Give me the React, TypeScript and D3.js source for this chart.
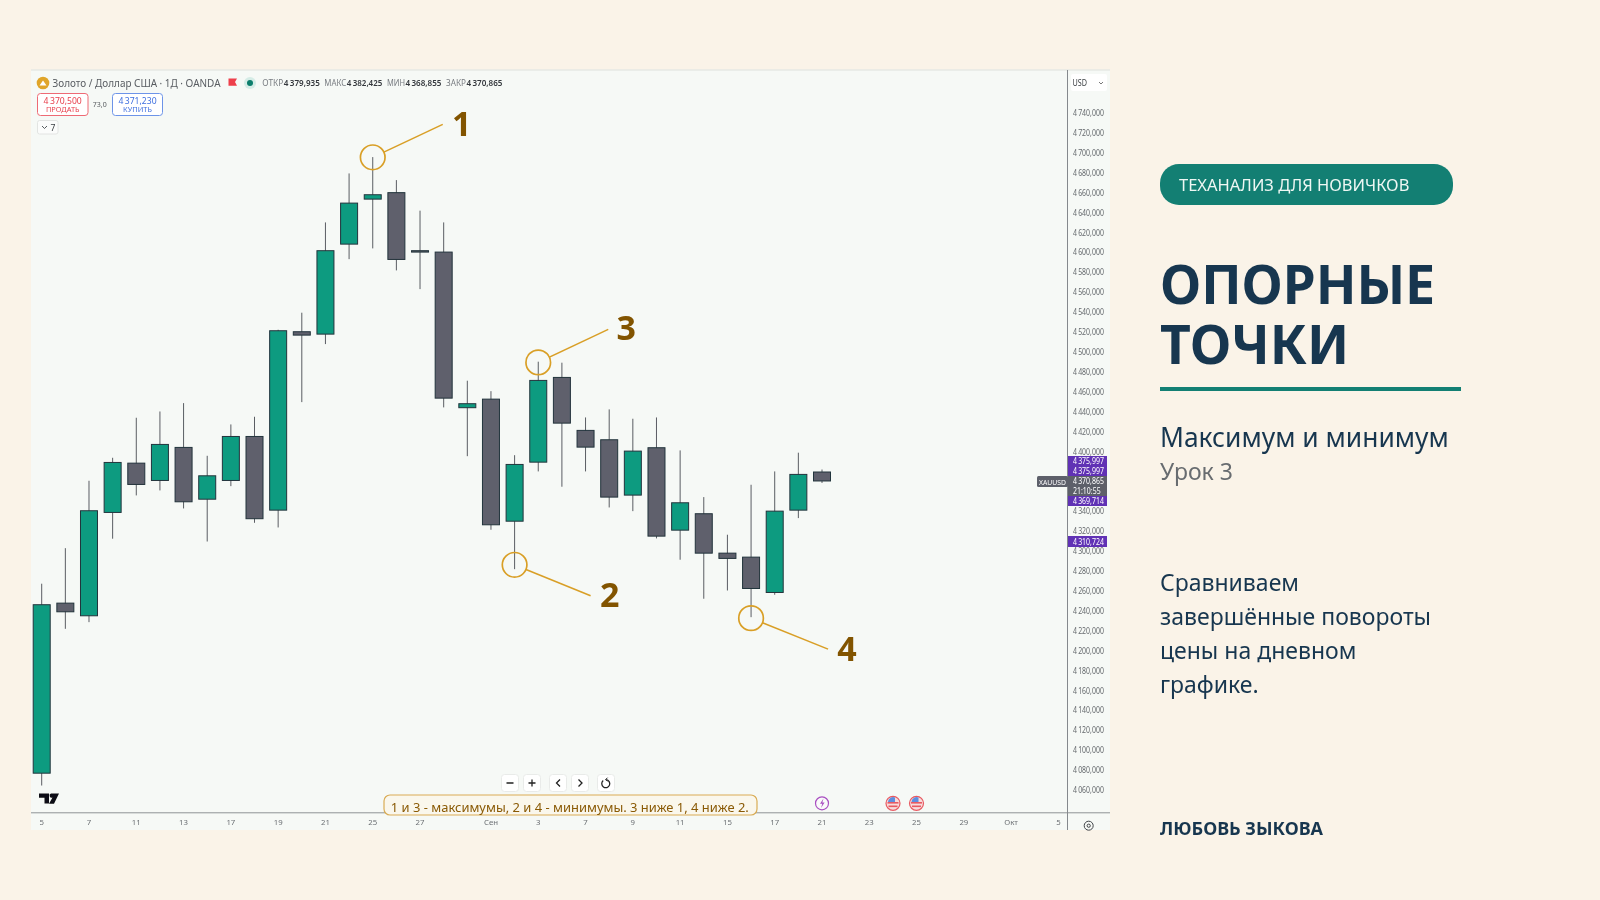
import React from "react";
import * as d3 from "d3";

const opens = [4077.4,4248.2,4235.5,4339.3,4388.8,4371.4,4404.6,4352.6,4371.4,4415.6,4341.6,4520.8,4518.4,4608.8,4654,4660.5,4602.2,4600.8,4444.5,4453.1,4330.5,4389.8,4474.9,4421.7,4412.3,4356.7,4404.3,4321.5,4338,4298.4,4294.4,4258.9,4341.6,4379.9];
const closes = [4246.6,4239.5,4341,4389.5,4367.4,4407.6,4350,4376.1,4415.6,4333,4521.8,4517.4,4602.2,4650,4658.4,4593.4,4600.8,4454.1,4448.5,4326.9,4387.5,4471.9,4429,4404.9,4354.7,4400.9,4315.5,4349,4298.4,4293.1,4262.9,4340.6,4377.5,4370.9];
const highs = [4267.7,4303.4,4371.1,4394.2,4434.4,4440.7,4449.1,4396.2,4427.7,4435.4,4522.8,4539.9,4630.6,4679.8,4696.2,4673.1,4642.4,4630.6,4471.6,4461.1,4396.8,4490.7,4489.7,4434.7,4442.8,4433.4,4434.7,4401.6,4354.7,4316.9,4367.1,4380.5,4399.3,4382.4];
const lows = [4065,4222.4,4229.1,4312.9,4356.4,4361.4,4343.3,4310.1,4365.7,4328.9,4324.2,4450.1,4508.4,4593.7,4604.5,4582.4,4563.6,4444.8,4395.8,4321.9,4282.3,4380.5,4365.1,4380.5,4344.3,4340.6,4313.2,4291.8,4252.6,4260.9,4234.1,4256.6,4333.6,4368.9];

const priceTicks = d3.range(4060, 4741, 20).filter((p) => p !== 4360 && p !== 4380);
const timeLabels = ["5","7","11","13","17","19","21","25","27","Сен","3","7","9","11","15","17","21","23","25","29","Окт","5"];
const timeLabelSlots = [0,2,4,6,8,10,12,14,16,19,21,23,25,27,29,31,33,35,37,39,41,43];

const pivotCandles = [14, 20, 21, 30];
const pivotPrices = [4696, 4286.7, 4490, 4233.1];
const pivotNames = ["1", "2", "3", "4"];

const paragraph = ["Сравниваем", "завершённые повороты", "цены на дневном", "графике."];
const ohlcNames = ["ОТКР", "МАКС", "МИН", "ЗАКР"];
const ohlcValues = ["4\u2009379,935", "4\u2009382,425", "4\u2009368,855", "4\u2009370,865"];

const W = 1600, H = 900;
const BG = "#faf3e8", PANEL = "#f6f9f6", NAVY = "#17364f", TEAL = "#137f73";
const UP = "#0f9b80", DOWN = "#5e606c", GOLD = "#d99f26", BROWN = "#825400", PURPLE = "#6030b5";
const SANS = "'Noto Sans', 'Open Sans', sans-serif";

const x = d3.scaleLinear().domain([0, 33]).range([41.7, 822]);
const y = d3.scaleLinear().domain([4060, 4740]).range([790.5, 113.5]);

const leaders = [
  { dx: 70, dy: -33, tx: 89, ty: -33 },
  { dx: 76, dy: 31, tx: 95, ty: 30 },
  { dx: 70, dy: -33, tx: 88, ty: -34 },
  { dx: 77, dy: 31, tx: 96, ty: 31 },
];

const tagTexts = [
  { t: "4\u2009375,997", py: 461 },
  { t: "4\u2009375,997", py: 471 },
  { t: "4\u2009370,865", py: 481 },
  { t: "21:10:55", py: 491 },
  { t: "4\u2009369,714", py: 501 },
  { t: "4\u2009310,724", py: 541.5 },
];

export default function App() {
  const bw = 17;
  return (
    <svg width={W} height={H} viewBox={`0 0 ${W} ${H}`} style={{ position: "absolute", left: 0, top: 0, display: "block" }} fontFamily={SANS}>
      <defs>
        <filter id="soft" x="-2%" y="-2%" width="104%" height="104%"><feGaussianBlur stdDeviation="0.3" /></filter>
      </defs>
      <rect width={W} height={H} fill={BG} />

      <g filter="url(#soft)">
        <rect x={31} y={70} width={1079} height={760} fill={PANEL} />
        <line x1={31} x2={1110} y1={70} y2={70} stroke="#e6e8e4" strokeWidth={1.5} />
        <line x1={31} x2={1110} y1={812.8} y2={812.8} stroke="#8f9396" strokeWidth={1} />
        <line x1={1067.5} x2={1067.5} y1={70} y2={830} stroke="#85898d" strokeWidth={1} />

        {opens.map((o, i) => {
          const c = closes[i];
          const top = y(Math.max(o, c));
          const bot = y(Math.min(o, c));
          return (
            <g key={i}>
              <line x1={x(i)} x2={x(i)} y1={y(highs[i])} y2={y(lows[i])} stroke="#5a5d63" strokeWidth={1} />
              <rect x={x(i) - bw / 2} y={top} width={bw} height={Math.max(bot - top, 1)} fill={c >= o ? UP : DOWN} stroke="#23343c" strokeWidth={1} />
            </g>
          );
        })}

        {priceTicks.map((p) => (
          <text key={p} transform={`translate(1073,${y(p) + 2.6}) scale(0.83,1)`} fontSize={8.4} fill="#666a6e">{d3.format(",")(p).replace(",", "\u2009")},000</text>
        ))}
        <rect x={1071} y={74} width={36} height={17} rx={2} fill="#ffffff" />
        <text transform="translate(1072.5,86) scale(0.85,1)" fontSize={8.5} fill="#3c4044">USD</text>
        <path d="M1099 82l2 2 2-2" fill="none" stroke="#555" strokeWidth={0.8} />

        <rect x={1068} y={456} width={39} height={20} fill={PURPLE} />
        <rect x={1068} y={476} width={39} height={20} fill="#5d606b" />
        <rect x={1068} y={496} width={39} height={10} fill={PURPLE} />
        <rect x={1068} y={536} width={39} height={11} fill={PURPLE} />
        {tagTexts.map((tg, i) => (
          <text key={i} transform={`translate(1073,${tg.py + 3}) scale(0.83,1)`} fontSize={8.4} fill="#fff">{tg.t}</text>
        ))}
        <rect x={1037} y={476} width={31} height={11} rx={1.5} fill="#5d606b" />
        <text transform="translate(1039,484.5) scale(0.85,1)" fontSize={8} fill="#fff">XAUUSD</text>

        {timeLabels.map((t, i) => (
          <text key={i} x={x(timeLabelSlots[i])} y={824.5} fontSize={7.8} fill="#6c7074" textAnchor="middle">{t}</text>
        ))}
        <g fill="none" stroke="#3f4347">
          <circle cx={1088.7} cy={825.7} r={4.5} strokeWidth={1} />
          <circle cx={1088.7} cy={825.7} r={1.6} strokeWidth={1} />
        </g>

        <circle cx={43} cy={83} r={6.3} fill="#e0a52a" />
        <path d="M39.5 85.5l3.5-5 3.5 5z" fill="#fff" />
        <text x={52.5} y={86.5} fontSize={10.2} fill="#585c61" textLength={168} lengthAdjust="spacingAndGlyphs">Золото / Доллар США · 1Д · OANDA</text>
        <path d="M228.5 78.5h8.5l-2 3.6 2 3.6h-8.5z" fill="#ee3f4b" />
        <circle cx={250} cy={83} r={6} fill="#d5ece6" />
        <circle cx={250} cy={83} r={3} fill="#0c7e6c" />
        {ohlcNames.map((n, i) => {
          const starts = [262.3, 324.3, 387, 446];
          const nameW = [21, 22, 18, 20];
          const valW = [36, 35.5, 36, 36];
          return (
            <g key={n}>
              <text x={starts[i]} y={86} fontSize={8.2} fill="#797d82" textLength={nameW[i]} lengthAdjust="spacingAndGlyphs">{n}</text>
              <text x={starts[i] + nameW[i] + 0.5} y={86} fontSize={8.4} fill="#34383d" fontWeight={600} textLength={valW[i]} lengthAdjust="spacingAndGlyphs">{ohlcValues[i]}</text>
            </g>
          );
        })}
        <rect x={37.5} y={93.5} width={50.5} height={22} rx={3} fill="#fff" stroke="#ee6a74" strokeWidth={1} />
        <text x={62.7} y={103.5} fontSize={8.6} fill="#e8404d" textAnchor="middle">4{"\u2009"}370,500</text>
        <text x={62.7} y={112} fontSize={7.4} fill="#e8404d" textAnchor="middle">ПРОДАТЬ</text>
        <text x={99.8} y={106.5} fontSize={7} fill="#54585c" textAnchor="middle">73,0</text>
        <rect x={112.5} y={93.5} width={50} height={22} rx={3} fill="#fff" stroke="#6d94e8" strokeWidth={1} />
        <text x={137.5} y={103.5} fontSize={8.6} fill="#3e6fdf" textAnchor="middle">4{"\u2009"}371,230</text>
        <text x={137.5} y={112} fontSize={7.4} fill="#3e6fdf" textAnchor="middle">КУПИТЬ</text>
        <rect x={37.5} y={120.5} width={20.5} height={13.5} rx={2} fill="#fbfcfb" stroke="#e2e4e2" strokeWidth={1} />
        <path d="M42 126l2.5 2.5 2.5-2.5" fill="none" stroke="#44484c" strokeWidth={0.9} />
        <text x={50.5} y={130.5} fontSize={8.5} fill="#3c4044">7</text>

        <path d="M39 793.5h10v10h-4.5v-5.8H39zM50.5 793.5h8.5l-5 10.3h-5l3.5-6.2a2 2 0 1 1-1.5-4.1z" fill="#0e0f12" />

        {[510, 532, 558, 580, 606].map((bx) => (
          <rect key={bx} x={bx - 8.5} y={774.5} width={17} height={17} rx={3} fill="#ffffff" stroke="#e9ebe9" strokeWidth={1} />
        ))}
        <g fill="none" stroke="#222" strokeWidth={1.3}>
          <path d="M506.5 783h7M528.5 783h7M532 779.5v7" />
          <path d="M560 779.5l-3.5 3.5 3.5 3.5M578.5 779.5l3.5 3.5-3.5 3.5" />
          <path d="M603.2 780.6a4 4 0 1 0 3-.9" />
          <path d="M607.5 777.7l-2 2 2.2 1.4" strokeWidth={1} />
        </g>

        <circle cx={822} cy={803.3} r={6.5} fill="#fafafa" stroke="#a94fc1" strokeWidth={1.2} />
        <path d="M823.5 798.5l-3.5 5.2h2.3l-1.3 4.3 3.6-5.5h-2.3z" fill="#a94fc1" />
        {[893, 916.5].map((fx) => (
          <g key={fx}>
            <circle cx={fx} cy={803.3} r={7} fill="#f7dcdc" stroke="#e85a62" strokeWidth={1.2} />
            <rect x={fx - 5.5} y={802} width={11} height={1.6} fill="#e85a62" />
            <rect x={fx - 4.5} y={805.5} width={9} height={1.6} fill="#e85a62" />
            <path d={`M${fx - 5} 802a5.2 5 0 0 1 7-4.6v4.6z`} fill="#5d8fe0" />
          </g>
        ))}
      </g>

      <rect x={384} y={795} width={373} height={20} rx={6} fill="#faf7ec" stroke="#d9ac55" strokeWidth={1.2} />
      <text x={569.8} y={812} fontSize={12.95} fill="#8a5a05" textAnchor="middle">1 и 3 - максимумы, 2 и 4 - минимумы. 3 ниже 1, 4 ниже 2.</text>

      {pivotCandles.map((ci, i) => {
        const cx = x(ci), cy = y(pivotPrices[i]);
        const l = leaders[i];
        const len = Math.hypot(l.dx, l.dy);
        const r = 12.3;
        return (
          <g key={i}>
            <circle cx={cx} cy={cy} r={r} fill="none" stroke={GOLD} strokeWidth={1.7} />
            <line x1={cx + (l.dx / len) * r} y1={cy + (l.dy / len) * r} x2={cx + l.dx} y2={cy + l.dy} stroke={GOLD} strokeWidth={1.5} />
            <text x={cx + l.tx} y={cy + l.ty + 12} fontSize={34} fontWeight={700} fill={BROWN} textAnchor="middle">{pivotNames[i]}</text>
          </g>
        );
      })}

      <rect x={1160} y={164} width={293} height={41} rx={19} fill={TEAL} />
      <text x={1179} y={191} fontSize={16.5} fill="#eef7f3">ТЕХАНАЛИЗ ДЛЯ НОВИЧКОВ</text>
      <text x={1160} y={304} fontSize={53} fontWeight={700} fill={NAVY}>ОПОРНЫЕ</text>
      <text x={1160} y={364} fontSize={53.5} fontWeight={700} fill={NAVY}>ТОЧКИ</text>
      <rect x={1160} y={387} width={301} height={4} fill={TEAL} />
      <text x={1160} y={447} fontSize={26.4} fill={NAVY}>Максимум и минимум</text>
      <text x={1160} y={480} fontSize={23} fill="#686c70">Урок 3</text>
      {paragraph.map((line, i) => (
        <text key={i} x={1160} y={591 + i * 33.9} fontSize={23} fill={NAVY}>{line}</text>
      ))}
      <text x={1160} y={835} fontSize={18} fontWeight={700} fill={NAVY}>ЛЮБОВЬ ЗЫКОВА</text>
    </svg>
  );
}
